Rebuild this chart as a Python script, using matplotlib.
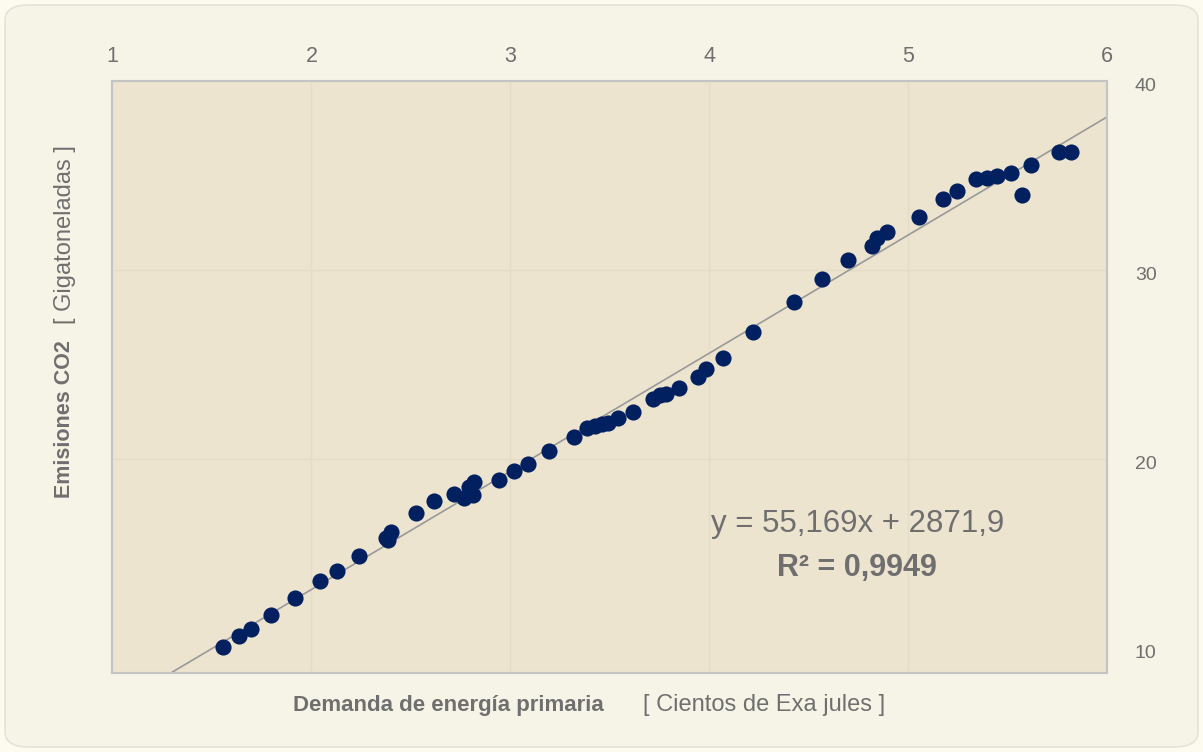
import matplotlib
matplotlib.use('Agg')
import matplotlib.pyplot as plt
import matplotlib.transforms as mtransforms
from matplotlib.patches import FancyBboxPatch
import numpy as np

plt.rcParams['font.family'] = ['Liberation Sans', 'DejaVu Sans']

# demanda de energia primaria (cientos de EJ) vs emisiones CO2 (Gt)
energia = [1.556, 1.636, 1.696, 1.799, 1.920, 2.045, 2.127, 2.239, 2.374, 2.387,
           2.400, 2.526, 2.618, 2.718, 2.767, 2.814, 2.794, 2.819, 2.945, 3.020,
           3.090, 3.196, 3.319, 3.384, 3.426, 3.460, 3.493, 3.543, 3.618, 3.719,
           3.753, 3.781, 3.850, 3.945, 3.984, 4.071, 4.218, 4.425, 4.567, 4.696,
           4.819, 4.842, 4.894, 5.055, 5.175, 5.246, 5.343, 5.397, 5.445, 5.517,
           5.571, 5.618, 5.760, 5.818]
emisiones = [10.03, 10.61, 11.01, 11.75, 12.62, 13.54, 14.07, 14.87, 15.84, 15.71,
             16.12, 17.13, 17.76, 18.15, 17.95, 18.10, 18.53, 18.80, 18.89, 19.37,
             19.74, 20.42, 21.18, 21.62, 21.75, 21.84, 21.92, 22.19, 22.50, 23.17,
             23.39, 23.44, 23.74, 24.35, 24.75, 25.36, 26.72, 28.29, 29.52, 30.53,
             31.27, 31.71, 32.03, 32.79, 33.77, 34.18, 34.80, 34.88, 34.97, 35.12,
             33.95, 35.54, 36.24, 36.24]

xticks = [1, 2, 3, 4, 5, 6]
yticks = [10, 20, 30, 40]
ecuacion = 'y = 55,169x + 2871,9'
r2_texto = 'R² = 0,9949'

gris = '#6F6F6F'
azul = '#002060'

fig = plt.figure(figsize=(12.03, 7.52), dpi=100)
fig.patch.set_facecolor('#FDFBF0')

# marco redondeado de fondo
marco = FancyBboxPatch((5 / 1203, 5 / 752), 1193 / 1203, 742 / 752,
                       boxstyle='round,pad=0,rounding_size=0.02',
                       transform=fig.transFigure, facecolor='#F6F4E6',
                       edgecolor='#E6E3D6', linewidth=1.2, zorder=-10)
fig.patches.append(marco)

ax = fig.add_axes([0.0935, 0.1055, 0.8267, 0.7868])
ax.set_facecolor('#ECE4CE')

ax.set_xlim(1, 6)
ax.set_ylim(8.69, 40)

# linea de tendencia
p = np.polyfit(energia, emisiones, 1)
xl = np.array(ax.get_xlim())
ax.plot(xl, np.polyval(p, xl), color='#999999', lw=1.2, zorder=2)

ax.scatter(energia, emisiones, s=135, color=azul, zorder=3, linewidths=0)

ax.set_xticks(xticks)
ax.set_yticks(yticks)
ax.xaxis.tick_top()
ax.yaxis.tick_right()
ax.tick_params(axis='x', length=0, pad=10, labelsize=15.5, labelcolor=gris)
ax.tick_params(axis='y', length=0, pad=20, labelsize=14, labelcolor=gris)
off = mtransforms.ScaledTranslation(0, -4 / 100, fig.dpi_scale_trans)
for lbl in ax.get_yticklabels():
    lbl.set_transform(lbl.get_transform() + off)

ax.grid(True, color='#E3DCC7', lw=1)
ax.yaxis.get_gridlines()[0].set_visible(False)
ax.set_axisbelow(True)
for s in ax.spines.values():
    s.set_color('#C4C4C4')
    s.set_linewidth(1.5)

ax.text(0.749, 0.251, ecuacion, transform=ax.transAxes, ha='center', va='center',
        fontsize=22.5, color=gris)
ax.text(0.749, 0.177, r2_texto, transform=ax.transAxes, ha='center', va='center',
        fontsize=22, color=gris, fontweight='bold')

# titulos de ejes
fig.text(448 / 1203, 1 - 705 / 752, 'Demanda de energía primaria', ha='center',
         va='center', fontsize=16, fontweight='bold', color=gris)
fig.text(764 / 1203, 1 - 705 / 752, '[ Cientos de Exa jules ]', ha='center',
         va='center', fontsize=17, color=gris)
fig.text(65 / 1203, 1 - 419 / 752, 'Emisiones CO2', ha='center', va='center',
         rotation=90, fontsize=15.5, fontweight='bold', color=gris)
fig.text(65 / 1203, 1 - 235 / 752, '[ Gigatoneladas ]', ha='center', va='center',
         rotation=90, fontsize=17, color=gris)

fig.savefig('out.png', dpi=100, facecolor=fig.get_facecolor())
